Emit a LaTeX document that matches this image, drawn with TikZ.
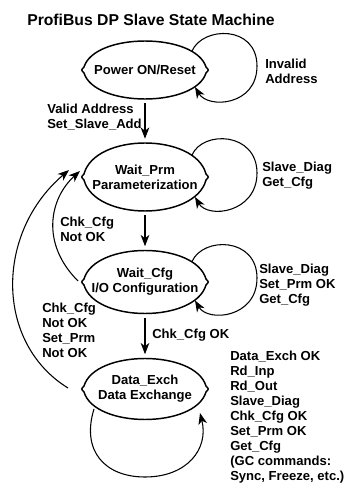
\documentclass[tikz,border=0pt]{standalone}
\usepackage{fontspec}
\setmainfont{Liberation Sans}
\usetikzlibrary{arrows.meta,calc}
\tikzset{
	>={Stealth[length=8.5pt,width=6.5pt,inset=2.5pt]},
	state/.style={
			font=\bfseries\fontsize{9.8}{11.25}\selectfont,
			align=center, inner sep=0pt,
			minimum width=94.5pt, minimum height={1.5pt*#1},
			append after command={\pgfextra{
						\draw[line width=1.1pt, shift={(\tikzlastnode.center)}]
						(-61,3) .. controls (-50,{(#1-0.75)/0.75}) and (50,{(#1-0.75)/0.75}) .. (61,3)
						.. controls (64,0) .. (61,-3)
						.. controls (50,{-(#1-0.75)/0.75}) and (-50,{-(#1-0.75)/0.75}) .. (-61,-3)
						.. controls (-64,0) .. cycle;}}
		},
	state/.default=31,
	lbl/.style={
			font=\bfseries\fontsize{9.8}{11.25}\selectfont,
			align=left, anchor=west, inner sep=0pt
		},
	trans/.style={->, line width=0.8pt}
}

\begin{document}
\begin{tikzpicture}[x=0.75pt, y=0.75pt]
	\useasboundingbox (0,0) rectangle (347,483);

	\node[font=\bfseries\fontsize{11.8}{14}\selectfont, anchor=west, inner sep=0pt] (title) at (27,463) {ProfiBus DP Slave State Machine};

	\node[state=29] (pwr) at (145,413) {Power ON/Reset};
	\node[state=34] (prm) at (145,306) {Wait\_Prm\\Parameterization};
	\node[state=31.5] (cfg) at (145,201) {Wait\_Cfg\\I/O Configuration};
	\node[state=30.5] (dx) at (145,94) {Data\_Exch\\Data Exchange};

	\node[lbl] (invalid) at (265,412) {Invalid\\Address};
	\node[lbl] (valid) at (47,365.5) {Valid Address\\Set\_Slave\_Add};
	\node[lbl] (prmloop) at (262,307.5) {Slave\_Diag\\Get\_Cfg};
	\node[lbl] (cfgloop) at (259,198) {Slave\_Diag\\Set\_Prm OK\\Get\_Cfg};
	\node[lbl] (cfgnok) at (60,254) {Chk\_Cfg\\Not OK};
	\node[lbl] (dxnok) at (42,152.5) {Chk\_Cfg\\Not OK\\Set\_Prm\\Not OK};
	\node[lbl] (cfgok) at (152,148) {Chk\_Cfg OK};
	\node[lbl] (dxloop) at (230,66) {Data\_Exch OK\\Rd\_Inp\\Rd\_Out\\Slave\_Diag\\Chk\_Cfg OK\\Set\_Prm OK\\Get\_Cfg\\(GC commands:\\Sync, Freeze, etc.)};

	\draw[trans, shorten <=3pt, shorten >=3pt] (pwr.south) -- (prm.north);
	\draw[trans, shorten <=3pt, shorten >=3pt] (prm.south) -- (cfg.north);
	\draw[trans, shorten <=3pt, shorten >=3pt] (cfg.south) -- (dx.north);

	\draw[trans] ($(pwr)+(47,19)$) .. controls +(11,25) and +(0,41) .. ($(pwr)+(112,4)$) .. controls +(0,-40) and +(13,-22) .. ($(pwr)+(50,-17)$);
	\draw[trans] ($(prm)+(47,22)$) .. controls +(11,25) and +(0,41) .. ($(prm)+(112,4)$) .. controls +(0,-40) and +(13,-22) .. ($(prm)+(50,-20)$);
	\draw[trans] ($(cfg)+(47,20.5)$) .. controls +(11,25) and +(0,41) .. ($(cfg)+(112,4)$) .. controls +(0,-40) and +(13,-22) .. ($(cfg)+(50,-18.5)$);
	\draw[trans] ($(dx)+(-51,-20)$) .. controls ($(dx)+(-64,-62)$) and ($(dx)+(-40,-88)$) .. ($(dx)+(0,-88)$) .. controls ($(dx)+(42,-88)$) and ($(dx)+(64,-60)$) .. ($(dx)+(55,-24)$);

	\draw[trans] ($(cfg)+(-67,1)$) .. controls ($(cfg)+(-105,39)$) and ($(prm)+(-95,-21)$) .. ($(prm)+(-65,6)$);
	\draw[trans] ($(dx)+(-77,1)$) .. controls ($(dx)+(-150,46)$) and ($(prm)+(-150,-56)$) .. ($(prm)+(-76,7)$);
\end{tikzpicture}
\end{document}
